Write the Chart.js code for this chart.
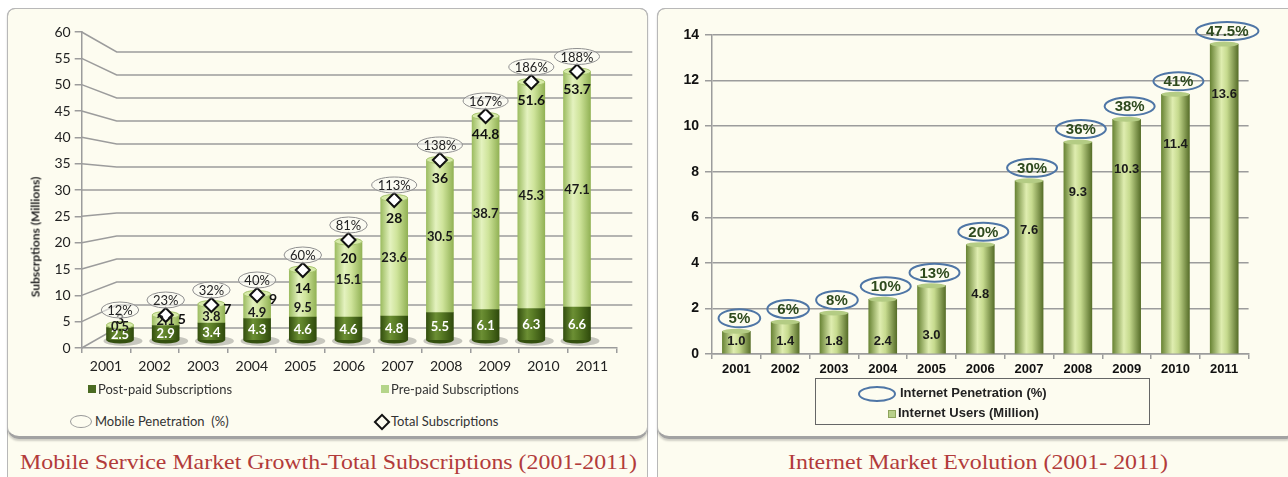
<!DOCTYPE html>
<html>
<head>
<meta charset="utf-8">
<script src="https://cdn.jsdelivr.net/npm/chart.js@4.4.1/dist/chart.umd.min.js"></script>
<style>
  body { margin: 0; width: 1288px; height: 477px; background: #fff; position: relative; overflow: hidden; font-family: Lato, sans-serif; }
  .panel { position: absolute; top: 8px; height: 490px; border: 1px solid #b8b8b8; border-radius: 8px; background: #fdfcf0; box-sizing: border-box; }
  #left-panel { left: 7px; width: 641px; }
  #right-panel { left: 657px; width: 640px; }
  .box { position: absolute; left: -1px; right: -1px; top: -1px; height: 431px; border: 1px solid #b8b8b8; border-bottom: 3px solid #a2a2a2; border-radius: 8px 8px 12px 12px; box-shadow: 0 2px 2px rgba(0,0,0,0.18); box-sizing: border-box; }
  canvas { position: absolute; }
  .title { position: absolute; top: 450px; white-space: nowrap; font-family: "Liberation Serif", serif; font-size: 21px; color: #b23b3b; transform-origin: left center; }
  .lg { position: absolute; font-size: 13px; color: #333; white-space: nowrap; line-height: 16px; }
  .ytitle { position: absolute; left: 35px; top: 237px; transform: translate(-50%, -50%) rotate(-90deg); font-size: 12px; font-weight: bold; color: #222; white-space: nowrap; }
  #net-legend { position: absolute; left: 815px; top: 378px; width: 335px; height: 47px; border: 1px solid #666; box-sizing: border-box; font-family: "Liberation Sans", Arial, sans-serif; font-weight: bold; font-size: 13px; color: #222; }
  #net-legend div { position: absolute; white-space: nowrap; line-height: 16px; }
</style>
</head>
<body>
<div class="panel" id="left-panel"><div class="box"></div></div>
<div class="panel" id="right-panel"><div class="box"></div></div>

<canvas id="mobile" width="640" height="372" style="left:8px;top:10px"></canvas>
<canvas id="internet" width="628" height="372" style="left:658px;top:10px"></canvas>

<div class="ytitle">Subscrptions (Millions)</div>

<div class="lg" style="left:88px;top:385px;width:8px;height:8px;background:#4b6b22"></div>
<div class="lg" style="left:98px;top:381px">Post-paid Subscriptions</div>
<div class="lg" style="left:381px;top:385px;width:8px;height:8px;background:#b5d58a"></div>
<div class="lg" style="left:391px;top:381px">Pre-paid Subscriptions</div>
<div class="lg" style="left:70px;top:415px;width:20px;height:11px;border:1px solid #999;border-radius:50%"></div>
<div class="lg" style="left:95px;top:413px">Mobile Penetration&nbsp; (%)</div>
<div class="lg" style="left:376px;top:416px;width:8px;height:8px;border:2px solid #111;transform:rotate(45deg)"></div>
<div class="lg" style="left:391px;top:413px">Total Subscriptions</div>

<div id="net-legend">
  <div style="left:42px;top:7px;width:34px;height:12px;border:2px solid #4f76a6;border-radius:50%"></div>
  <div style="left:84px;top:6px">Internet Penetration (%)</div>
  <div style="left:72px;top:31px;width:6px;height:6px;background:#b8d08a;border:1px solid #8ea45c"></div>
  <div style="left:82px;top:26px">Internet Users (Million)</div>
</div>

<div class="title" id="t-left">Mobile Service Market Growth-Total Subscriptions (2001-2011)</div>
<div class="title" id="t-right">Internet Market Evolution (2001- 2011)</div>

<script>
const years = ["2001", "2002", "2003", "2004", "2005", "2006", "2007", "2008", "2009", "2010", "2011"];

// mobile subscriptions, millions
const postpaid = [2.5, 2.9, 3.4, 4.3, 4.6, 4.6, 4.8, 5.5, 6.1, 6.3, 6.6];
const prepaid = [0.5, 2.1, 3.8, 4.9, 9.5, 15.1, 23.6, 30.5, 38.7, 45.3, 47.1];
const totalSubs = [3, 5, 7, 9, 14, 20, 28, 36, 44.8, 51.6, 53.7];
const mobilePenetration = ["12%", "23%", "32%", "40%", "60%", "81%", "113%", "138%", "167%", "186%", "188%"];
const mobileTicks = [0, 5, 10, 15, 20, 25, 30, 35, 40, 45, 50, 55, 60];

// internet users, millions
const internetUsers = [1.0, 1.4, 1.8, 2.4, 3.0, 4.8, 7.6, 9.3, 10.3, 11.4, 13.6];
const internetPenetration = ["5%", "6%", "8%", "10%", "13%", "20%", "30%", "36%", "38%", "41%", "47.5%"];
const internetTicks = [0, 2, 4, 6, 8, 10, 12, 14];

const gridGray = "#9c9c9c";

function cylinder(ctx, cx, half, stops) {
  const g = ctx.createLinearGradient(cx - half, 0, cx + half, 0);
  stops.forEach(([o, c]) => g.addColorStop(o, c));
  return g;
}

const darkStops = [[0, "#34500f"], [0.35, "#6c8f34"], [0.55, "#5a7d26"], [1, "#2f4a0c"]];
const lightStops = [[0, "#9dbd62"], [0.35, "#e4f2bf"], [0.6, "#cfe49b"], [1, "#92b255"]];
const netStops = [[0, "#6a8536"], [0.4, "#dfedb0"], [0.6, "#c6da8e"], [1, "#586f2a"]];

function barGradient(axisId, half, stops) {
  return (context) => {
    const xs = context.chart.scales[axisId];
    const i = context.dataIndex;
    const cx = xs && Number.isInteger(i) ? xs.getPixelForValue(i) : NaN;
    if (!Number.isFinite(cx)) return stops[1][1];
    return cylinder(context.chart.ctx, cx, half, stops);
  };
}

function fitTitle(id, left, width) {
  const el = document.getElementById(id);
  const w = el.getBoundingClientRect().width;
  el.style.left = left + "px";
  el.style.transform = `scaleX(${width / w})`;
}

// ---------- mobile chart ----------
const mobilePlugin = {
  id: "mobileDeco",
  beforeDatasetsDraw(chart) {
    const { ctx, chartArea: area } = chart;
    const y = chart.scales.y;
    const depthX = 35, depthY = 20;
    const backTop = y.getPixelForValue(60) + depthY;
    const backBottom = y.getPixelForValue(0) - depthY;
    ctx.save();
    ctx.strokeStyle = gridGray;
    ctx.lineWidth = 1.5;
    mobileTicks.forEach((v) => {
      const ya = y.getPixelForValue(v);
      const yb = backBottom + (backTop - backBottom) * (v / 60);
      ctx.beginPath();
      ctx.moveTo(area.left, ya);
      ctx.lineTo(area.left + depthX, yb);
      ctx.lineTo(area.right + 16, yb);
      ctx.stroke();
    });
    // shadows under the cylinders
    chart.getDatasetMeta(0).data.forEach((bar) => {
      ctx.fillStyle = "rgba(60,60,60,0.28)";
      ctx.beginPath();
      ctx.ellipse(bar.x + 3, bar.base + 1, bar.width / 2 + 6, 5, 0, 0, Math.PI * 2);
      ctx.fill();
    });
    ctx.restore();
  },
  afterDatasetDraw(chart, args) {
    if (args.index !== 0) return;
    const ctx = chart.ctx;
    ctx.save();
    chart.getDatasetMeta(1).data.forEach((bar) => {
      ctx.fillStyle = "#d6eaa8";
      ctx.strokeStyle = "#a7c46f";
      ctx.lineWidth = 1;
      ctx.beginPath();
      ctx.ellipse(bar.x, bar.y, bar.width / 2, 3.5, 0, 0, Math.PI * 2);
      ctx.fill();
      ctx.stroke();
    });
    chart.getDatasetMeta(0).data.forEach((bar) => {
      ctx.fillStyle = "#34500f";
      ctx.beginPath();
      ctx.ellipse(bar.x, bar.base, bar.width / 2, 3.5, 0, 0, Math.PI);
      ctx.fill();
    });
    ctx.restore();
  },
  afterDatasetsDraw(chart) {
    const ctx = chart.ctx;
    const post = chart.getDatasetMeta(0).data;
    const pre = chart.getDatasetMeta(1).data;
    const tot = chart.getDatasetMeta(2).data;
    ctx.save();
    ctx.textAlign = "center";
    ctx.textBaseline = "middle";
    ctx.font = "bold 13px Lato";
    post.forEach((bar, i) => {
      ctx.fillStyle = "#ffffff";
      ctx.fillText(postpaid[i].toFixed(1), bar.x, (bar.y + bar.base) / 2 + 1);
    });
    pre.forEach((bar, i) => {
      // keep the pre-paid label clear of the total label near the top
      const mid = (bar.y + bar.base) / 2 + 1;
      const ly = Math.max(mid, Math.min(tot[i].y + 38, bar.base - 6));
      ctx.fillStyle = "#1a1a1a";
      ctx.fillText(prepaid[i].toFixed(1), bar.x, ly);
    });
    tot.forEach((pt, i) => {
      ctx.font = "bold 14px Lato";
      ctx.fillStyle = "#111";
      if (totalSubs[i] < 4) {
        ctx.fillText(String(totalSubs[i]), pt.x, pt.y - 6);
      } else if (totalSubs[i] < 10) {
        ctx.fillText(String(totalSubs[i]), pt.x + 16, pt.y + 4);
      } else {
        ctx.fillText(String(totalSubs[i]), pt.x, pt.y + 18);
      }
      const cy = pt.y - 15;
      ctx.font = "13px Lato";
      const w = ctx.measureText(mobilePenetration[i]).width;
      ctx.fillStyle = "rgba(250,250,244,0.55)";
      ctx.strokeStyle = "#8f8f8f";
      ctx.lineWidth = 1;
      ctx.beginPath();
      ctx.ellipse(pt.x, cy, w / 2 + 6, 8, 0, 0, Math.PI * 2);
      ctx.fill();
      ctx.stroke();
      ctx.fillStyle = "#222";
      ctx.fillText(mobilePenetration[i], pt.x, cy + 1);
    });
    ctx.restore();
  }
};

new Chart(document.getElementById("mobile"), {
  type: "bar",
  data: {
    labels: years,
    datasets: [
      {
        label: "Post-paid Subscriptions",
        data: postpaid.map((v, i) => ({ x: i, y: v })),
        xAxisID: "xBar", yAxisID: "yBar", stack: "subs",
        backgroundColor: barGradient("xBar", 13.5, darkStops),
        barThickness: 27, borderWidth: 0
      },
      {
        label: "Pre-paid Subscriptions",
        data: prepaid.map((v, i) => ({ x: i, y: v })),
        xAxisID: "xBar", yAxisID: "yBar", stack: "subs",
        backgroundColor: barGradient("xBar", 13.5, lightStops),
        barThickness: 27, borderWidth: 0
      },
      {
        type: "line",
        label: "Total Subscriptions",
        data: totalSubs.map((v, i) => ({ x: i, y: v })),
        xAxisID: "xBar", yAxisID: "yBar", stack: "total",
        order: -1,
        showLine: false,
        pointStyle: "rectRot",
        pointRadius: (c) => (totalSubs[c.dataIndex] < 4 ? 0 : 7),
        pointBackgroundColor: "#fff", pointBorderColor: "#111", pointBorderWidth: 2
      }
    ]
  },
  options: {
    responsive: false,
    animation: false,
    layout: { padding: { top: 22, right: 31.7, left: 0, bottom: 0 } },
    plugins: { legend: { display: false }, tooltip: { enabled: false } },
    scales: {
      x: {
        type: "category",
        afterFit: (s) => { s.height = 34; },
        grid: { offset: true, drawOnChartArea: false, tickLength: 5, color: gridGray, lineWidth: 1.5 },
        border: { color: gridGray, width: 1.5 },
        ticks: { font: { family: "Lato", size: 14 }, color: "#222", padding: 5 }
      },
      xBar: {
        type: "linear", display: false, position: "bottom",
        bounds: "data", offset: false, grace: 0,
        min: -0.838, max: 10.86,
        afterDataLimits: (s) => { s.min = -0.838; s.max = 10.86; },
        afterBuildTicks: (s) => { s.ticks = [{ value: -0.838 }, { value: 10.86 }]; s.min = -0.838; s.max = 10.86; }
      },
      y: {
        min: 0, max: 60,
        afterFit: (s) => { s.width = 73.7; },
        afterBuildTicks: (s) => { s.ticks = mobileTicks.map((v) => ({ value: v })); },
        grid: { drawOnChartArea: false, tickLength: 7, color: gridGray, lineWidth: 1.5 },
        border: { color: gridGray, width: 1.5 },
        ticks: { font: { family: "Lato", size: 14 }, color: "#222", padding: 4 }
      },
      yBar: { type: "linear", display: false, stacked: true, bounds: "data", min: -1.6, max: 61.6 }
    }
  },
  plugins: [mobilePlugin]
});

// ---------- internet chart ----------
const internetPlugin = {
  id: "internetDeco",
  afterDatasetsDraw(chart) {
    const ctx = chart.ctx;
    ctx.save();
    ctx.textAlign = "center";
    ctx.textBaseline = "middle";
    chart.getDatasetMeta(0).data.forEach((bar, i) => {
      ctx.fillStyle = "#b4cc84";
      ctx.beginPath();
      ctx.ellipse(bar.x, bar.y, bar.width / 2, 2.5, 0, 0, Math.PI * 2);
      ctx.fill();

      ctx.font = "bold 13px 'Liberation Sans'";
      ctx.fillStyle = "#1a1a1a";
      ctx.fillText(internetUsers[i].toFixed(1), bar.x, Math.min(bar.y + 50, bar.base - 12));

      const cy = bar.y - 13;
      ctx.font = "bold 15px 'Liberation Sans'";
      const w = ctx.measureText(internetPenetration[i]).width;
      ctx.strokeStyle = "#4f76a6";
      ctx.lineWidth = 2;
      ctx.beginPath();
      ctx.ellipse(bar.x + 3, cy, w / 2 + 10, 9, 0, 0, Math.PI * 2);
      ctx.stroke();
      ctx.fillStyle = "#2e4a1e";
      ctx.fillText(internetPenetration[i], bar.x + 3, cy + 1);
    });
    ctx.restore();
  }
};

new Chart(document.getElementById("internet"), {
  type: "bar",
  data: {
    labels: years,
    datasets: [
      {
        label: "Internet Users (Million)",
        data: internetUsers,
        backgroundColor: barGradient("x", 14, netStops),
        barThickness: 28, borderWidth: 0
      }
    ]
  },
  options: {
    responsive: false,
    animation: false,
    layout: { padding: { top: 25, right: 37.4, left: 0, bottom: 0 } },
    plugins: { legend: { display: false }, tooltip: { enabled: false } },
    scales: {
      x: {
        afterFit: (s) => { s.height = 28; },
        grid: { offset: true, drawOnChartArea: false, tickLength: 5, color: gridGray, lineWidth: 1.5 },
        border: { color: gridGray, width: 1.5 },
        ticks: { font: { family: "Liberation Sans", size: 13, weight: "bold" }, color: "#111", padding: 3 }
      },
      y: {
        min: 0, max: 14,
        afterFit: (s) => { s.width = 54; },
        afterBuildTicks: (s) => { s.ticks = internetTicks.map((v) => ({ value: v })); },
        grid: { color: gridGray, lineWidth: 1.5, tickLength: 7 },
        border: { color: gridGray, width: 1.5 },
        ticks: { font: { family: "Liberation Sans", size: 14, weight: "bold" }, color: "#111", padding: 6 }
      }
    }
  },
  plugins: [internetPlugin]
});

fitTitle("t-left", 20, 617);
fitTitle("t-right", 788, 380);
</script>
</body>
</html>
